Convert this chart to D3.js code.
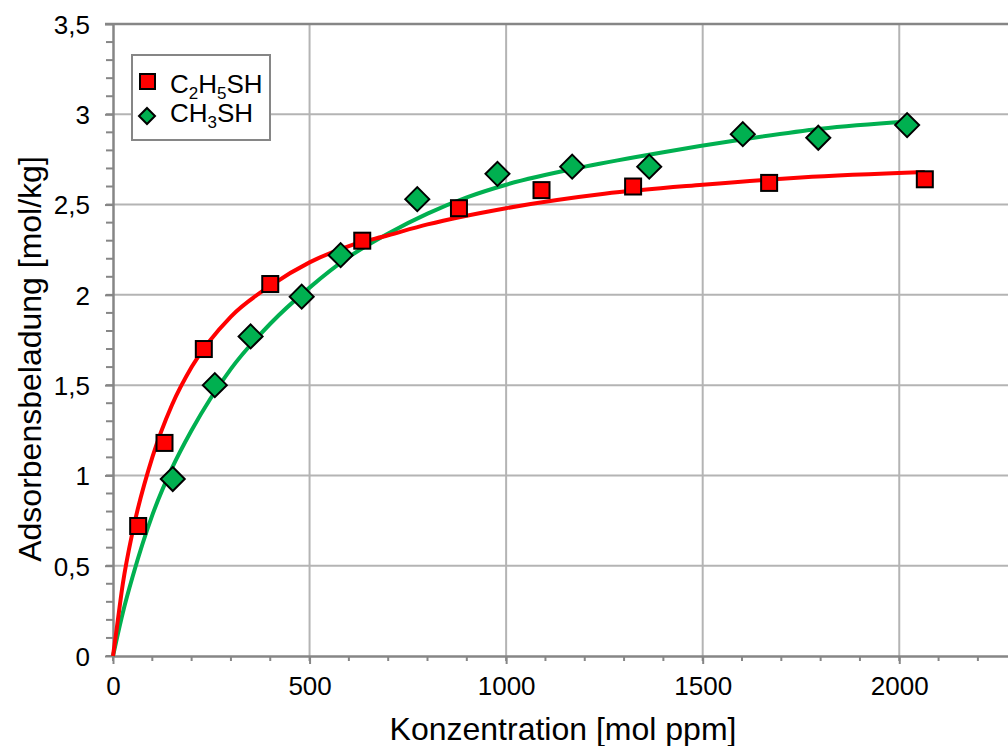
<!DOCTYPE html>
<html>
<head>
<meta charset="utf-8">
<script src="https://cdn.jsdelivr.net/npm/d3@7"></script>
<style>
  html, body { margin: 0; padding: 0; background: #fff; }
  svg { display: block; font-family: "Liberation Sans", Arial, sans-serif; }
</style>
</head>
<body>
<svg id="chart" width="1008" height="746"></svg>
<script>
// Measured adsorption points: concentration [mol ppm] vs. loading [mol/kg]
const ethylConc = [64, 131, 231, 400, 634, 880, 1090, 1323, 1669, 2065];
const ethylLoad = [0.72, 1.18, 1.70, 2.06, 2.30, 2.48, 2.58, 2.60, 2.62, 2.64];

const methylConc = [152, 259, 350, 480, 579, 774, 978, 1168, 1364, 1602, 1794, 2020];
const methylLoad = [0.98, 1.50, 1.77, 1.99, 2.22, 2.53, 2.67, 2.71, 2.71, 2.89, 2.87, 2.94];

// Isotherm trend lines
const ethylFitConc = [0, 10, 25, 50, 100, 150, 200, 300, 400, 500, 600, 700, 800, 1000, 1250, 1500, 1750, 2065];
const ethylFitLoad = [0, 0.16, 0.40, 0.69, 1.10, 1.39, 1.60, 1.88, 2.05, 2.18, 2.27, 2.33, 2.39, 2.48, 2.56, 2.61, 2.65, 2.68];

const methylFitConc = [0, 25, 50, 100, 150, 200, 300, 400, 500, 600, 700, 800, 900, 1000, 1200, 1400, 1600, 1800, 2020];
const methylFitLoad = [0, 0.24, 0.44, 0.78, 1.04, 1.25, 1.59, 1.84, 2.04, 2.21, 2.34, 2.45, 2.54, 2.61, 2.71, 2.79, 2.86, 2.92, 2.96];

// Axis ticks
const xMajor = [0, 500, 1000, 1500, 2000];
const xMinor = d3.range(0, 2301, 100);
const yMajor = [0, 0.5, 1, 1.5, 2, 2.5, 3, 3.5];
const yMinor = d3.range(0, 36).map(i => i / 10);
const yLabels = ["0", "0,5", "1", "1,5", "2", "2,5", "3", "3,5"];

const RED = "#ff0000", GREEN = "#00b050";
const AXIS = "#868686", GRID = "#b4b4b4";

const svg = d3.select("#chart");
const x = d3.scaleLinear().domain([0, 2300]).range([113, 1017.2]);
const y = d3.scaleLinear().domain([0, 3.5]).range([656, 24]);

// Gridlines
svg.append("g").selectAll("line").data(xMajor.filter(v => v > 0)).join("line")
  .attr("x1", d => x(d)).attr("x2", d => x(d))
  .attr("y1", y(3.5)).attr("y2", y(0))
  .attr("stroke", GRID).attr("stroke-width", 2);
svg.append("g").selectAll("line").data(yMajor.filter(v => v > 0 && v < 3.5)).join("line")
  .attr("x1", x(0)).attr("x2", 1008)
  .attr("y1", d => y(d)).attr("y2", d => y(d))
  .attr("stroke", GRID).attr("stroke-width", 2);

// Minor ticks
svg.append("g").selectAll("line").data(yMinor).join("line")
  .attr("x1", x(0) - 7).attr("x2", x(0))
  .attr("y1", d => y(d)).attr("y2", d => y(d))
  .attr("stroke", AXIS).attr("stroke-width", 2);
svg.append("g").selectAll("line").data(xMinor).join("line")
  .attr("x1", d => x(d)).attr("x2", d => x(d))
  .attr("y1", y(0)).attr("y2", y(0) + 5)
  .attr("stroke", AXIS).attr("stroke-width", 2);

// Axes with major ticks and labels
const yAxis = d3.axisLeft(y).tickValues(yMajor).tickSize(8).tickSizeOuter(0)
  .tickFormat((d, i) => yLabels[i]);
const gy = svg.append("g").attr("transform", `translate(${x(0)},0)`).call(yAxis);
const xAxis = d3.axisBottom(x).tickValues(xMajor).tickSize(8).tickSizeOuter(0)
  .tickFormat(d3.format("d"));
const gx = svg.append("g").attr("transform", `translate(0,${y(0)})`).call(xAxis);

[gx, gy].forEach(g => {
  g.select(".domain").attr("stroke", AXIS).attr("stroke-width", 2.5);
  g.selectAll(".tick line").attr("stroke", AXIS).attr("stroke-width", 2);
  g.selectAll(".tick text").attr("fill", "#000").attr("font-size", 26)
    .attr("font-family", "Liberation Sans, Arial, sans-serif");
});
gy.selectAll(".tick text").attr("x", -23).attr("dy", "0.36em");
gx.selectAll(".tick text").attr("y", 21).attr("dy", "0.71em");

// Upper frame line
svg.append("line")
  .attr("x1", x(0) - 8).attr("x2", 1008).attr("y1", y(3.5)).attr("y2", y(3.5))
  .attr("stroke", AXIS).attr("stroke-width", 2.5);

// Trend lines
const line = d3.line().x(d => x(d[0])).y(d => y(d[1])).curve(d3.curveMonotoneX);
svg.append("path").datum(d3.zip(methylFitConc, methylFitLoad))
  .attr("d", line).attr("fill", "none").attr("stroke", GREEN).attr("stroke-width", 4);
svg.append("path").datum(d3.zip(ethylFitConc, ethylFitLoad))
  .attr("d", line).attr("fill", "none").attr("stroke", RED).attr("stroke-width", 4);

// Markers
const sq = 16, dia = 12;
svg.append("g").selectAll("rect").data(d3.zip(ethylConc, ethylLoad)).join("rect")
  .attr("x", d => x(d[0]) - sq / 2).attr("y", d => y(d[1]) - sq / 2)
  .attr("width", sq).attr("height", sq)
  .attr("fill", RED).attr("stroke", "#000").attr("stroke-width", 2);
const diamondPath = r => `M0,${-r}L${r},0L0,${r}L${-r},0Z`;
svg.append("g").selectAll("path").data(d3.zip(methylConc, methylLoad)).join("path")
  .attr("transform", d => `translate(${x(d[0])},${y(d[1])})`)
  .attr("d", diamondPath(dia))
  .attr("fill", GREEN).attr("stroke", "#000").attr("stroke-width", 2);

// Legend
const lg = svg.append("g");
lg.append("rect").attr("x", 132).attr("y", 55).attr("width", 138).attr("height", 85)
  .attr("fill", "#fff").attr("stroke", AXIS).attr("stroke-width", 2);
lg.append("rect").attr("x", 140).attr("y", 74).attr("width", 15).attr("height", 15)
  .attr("fill", RED).attr("stroke", "#000").attr("stroke-width", 2);
lg.append("path").attr("transform", "translate(147,116)").attr("d", diamondPath(8))
  .attr("fill", GREEN).attr("stroke", "#000").attr("stroke-width", 2);

const t1 = lg.append("text").attr("x", 170).attr("y", 93).attr("font-size", 26).attr("fill", "#000");
t1.append("tspan").text("C");
t1.append("tspan").text("2").attr("font-size", 17).attr("dy", 6);
t1.append("tspan").text("H").attr("dy", -6);
t1.append("tspan").text("5").attr("font-size", 17).attr("dy", 6);
t1.append("tspan").text("SH").attr("dy", -6);

const t2 = lg.append("text").attr("x", 170).attr("y", 122).attr("font-size", 26).attr("fill", "#000");
t2.append("tspan").text("CH");
t2.append("tspan").text("3").attr("font-size", 17).attr("dy", 6);
t2.append("tspan").text("SH").attr("dy", -6);

// Axis titles
svg.append("text").attr("x", 563).attr("y", 740).attr("text-anchor", "middle")
  .attr("font-size", 32).attr("fill", "#000").text("Konzentration [mol ppm]");
svg.append("text").attr("transform", "translate(41,359) rotate(-90)")
  .attr("text-anchor", "middle").attr("font-size", 32).attr("fill", "#000")
  .text("Adsorbensbeladung [mol/kg]");
</script>
</body>
</html>
